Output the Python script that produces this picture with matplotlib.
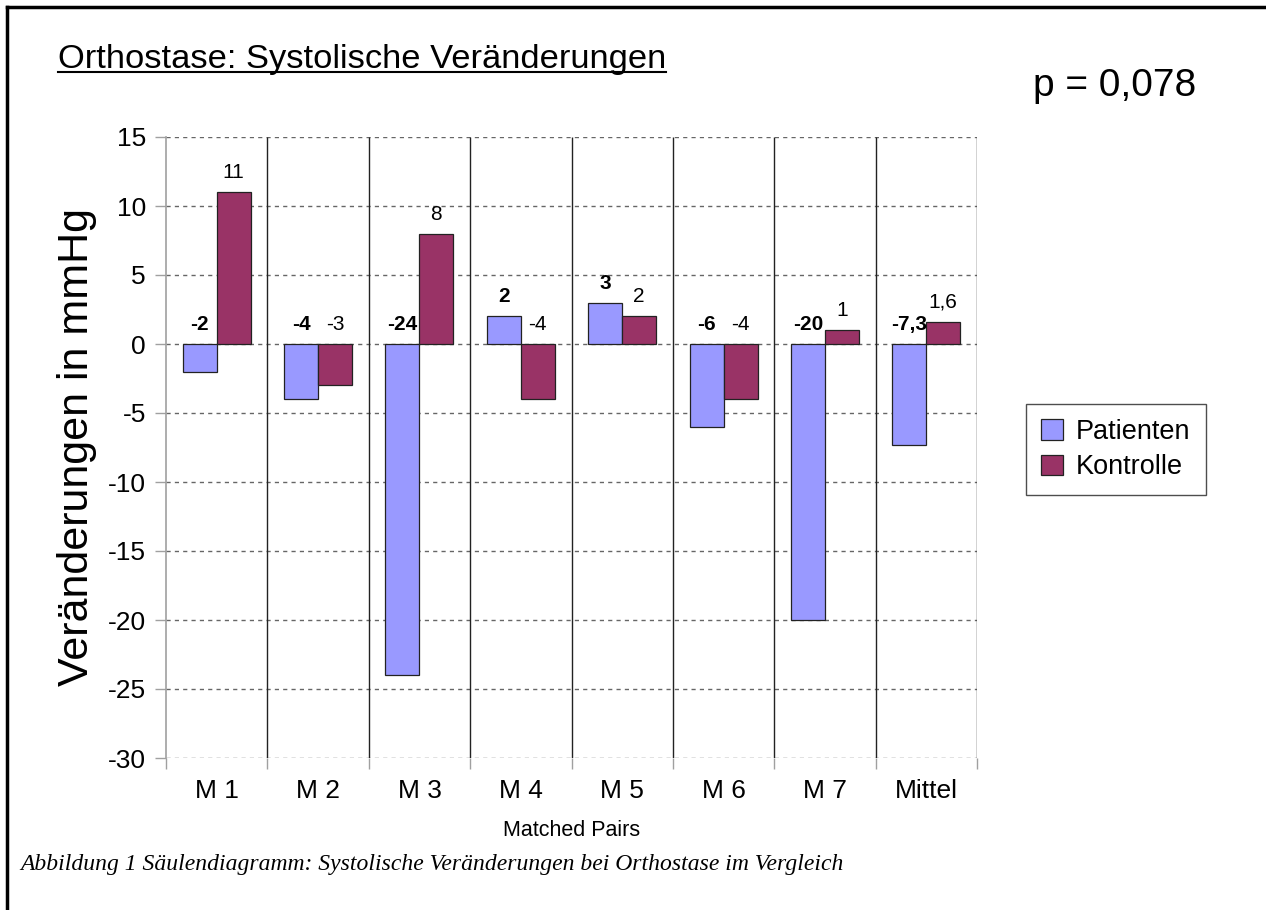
import numpy as np
import matplotlib
matplotlib.use("Agg")
import matplotlib.pyplot as plt
from matplotlib.lines import Line2D

plt.rcParams['font.family'] = ['Liberation Sans', 'DejaVu Sans']
plt.rcParams['axes.unicode_minus'] = False

pairs = ['M 1', 'M 2', 'M 3', 'M 4', 'M 5', 'M 6', 'M 7', 'Mittel']
patienten = [-2, -4, -24, 2, 3, -6, -20, -7.3]
kontrolle = [11, -3, 8, -4, 2, -4, 1, 1.6]
pat_labels = ['-2', '-4', '-24', '2', '3', '-6', '-20', '-7,3']
kon_labels = ['11', '-3', '8', '-4', '2', '-4', '1', '1,6']

fig = plt.figure(figsize=(12.66, 9.10), dpi=100)
ax = fig.add_axes([166 / 1266, 1 - 758 / 910, (977 - 166) / 1266, (758 - 137) / 910])

x = np.arange(len(pairs))
w = 0.335
ax.bar(x - w / 2, patienten, w, color='#9999ff', edgecolor='#222222', linewidth=0.9,
       label='Patienten', zorder=3)
ax.bar(x + w / 2, kontrolle, w, color='#993366', edgecolor='#222222', linewidth=0.9,
       label='Kontrolle', zorder=3)

for i in range(len(pairs)):
    ax.annotate(pat_labels[i], (x[i] - w / 2, max(patienten[i], 0)), xytext=(0, 14),
                textcoords='offset pixels', ha='center', va='baseline',
                fontsize=15, fontweight='bold', zorder=5)
    ax.annotate(kon_labels[i], (x[i] + w / 2, max(kontrolle[i], 0)), xytext=(0, 14),
                textcoords='offset pixels', ha='center', va='baseline',
                fontsize=15, zorder=5)

ax.set_xlim(-0.5, len(pairs) - 0.5)
ax.set_ylim(-30, 15)
ax.set_yticks(np.arange(-30, 16, 5))
ax.set_xticks(x)
ax.set_xticklabels(pairs, fontsize=19)
ax.set_xticks(np.arange(-0.5, len(pairs)), minor=True)
ax.tick_params(axis='x', which='major', length=0, pad=15)
ax.tick_params(axis='x', which='minor', length=8, color='#a0a0a0', width=1)
ax.tick_params(axis='y', length=8, color='#a0a0a0', width=1, labelsize=19, pad=6.5)

for s in ['top', 'right', 'bottom']:
    ax.spines[s].set_visible(False)
ax.spines['left'].set_color('#a0a0a0')
ax.spines['left'].set_linewidth(1.2)

for yv in np.arange(-30, 16, 5):
    ax.axhline(yv, color='#666666', linestyle=(0, (3, 3)), linewidth=1, zorder=1)
ax.vlines(np.arange(0.5, len(pairs)), -30, 15, color='#222222', linewidth=1, zorder=2)

ax.set_xlabel('Matched Pairs', fontsize=15.5, labelpad=12)
ax.set_ylabel('Veränderungen in mmHg', fontsize=31, labelpad=8)

fig.legend(loc='upper left', bbox_to_anchor=(1026 / 1266, 1 - 404 / 910), fontsize=19.5,
           frameon=True, fancybox=False, edgecolor='#222222', borderpad=0.55,
           borderaxespad=0, handlelength=0.8, handleheight=0.8, handletextpad=0.5,
           labelspacing=0.35)

title = fig.text(58 / 1266, 1 - 68 / 910, 'Orthostase: Systolische Veränderungen',
                 fontsize=24.8, ha='left', va='baseline')
fig.text(1196 / 1266, 1 - 96 / 910, 'p = 0,078', fontsize=28, ha='right', va='baseline')
fig.text(20 / 1266, 1 - 870 / 910,
         'Abbildung 1 Säulendiagramm: Systolische Veränderungen bei Orthostase im Vergleich',
         fontsize=17, family=['Liberation Serif', 'DejaVu Serif'], style='italic',
         ha='left', va='baseline')

# underline for the title
fig.canvas.draw()
bb = title.get_window_extent().transformed(fig.transFigure.inverted())
uy = 1 - 72 / 910
fig.add_artist(Line2D([bb.x0, bb.x1], [uy, uy], color='black', linewidth=1.5))

# page frame (left and top edges)
fig.add_artist(Line2D([7 / 1266, 7 / 1266], [0, 1 - 7 / 910], color='black', linewidth=2.5))
fig.add_artist(Line2D([7 / 1266, 1], [1 - 7 / 910, 1 - 7 / 910], color='black', linewidth=2.5))

fig.savefig('out.png', dpi=100)
